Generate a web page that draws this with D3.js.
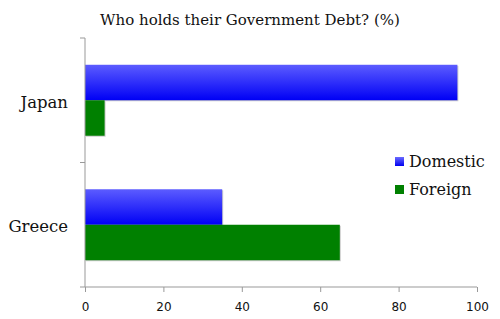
<!DOCTYPE html>
<html>
<head>
<meta charset="utf-8">
<script src="https://cdn.jsdelivr.net/npm/d3@7"></script>
<style>
  body { margin: 0; background: #fff; }
</style>
</head>
<body>
<div id="chart"></div>
<script>
const countries = ["Japan", "Greece"];
const seriesNames = ["Domestic", "Foreign"];
const domestic = [95, 35];
const foreign = [5, 65];
const xTicks = [0, 20, 40, 60, 80, 100];

const W = 500, H = 319;
const M = { top: 38, right: 23, bottom: 32, left: 85 };
const iW = W - M.left - M.right;
const iH = H - M.top - M.bottom;
const colors = ["url(#blueGrad)", "#008000"];

const svg = d3.select("#chart").append("svg")
  .attr("width", W).attr("height", H);

const defs = svg.append("defs");
const grad = defs.append("linearGradient").attr("id", "blueGrad")
  .attr("x1", 0).attr("y1", 0).attr("x2", 0).attr("y2", 1);
grad.append("stop").attr("offset", "0%").attr("stop-color", "#5c5cff");
grad.append("stop").attr("offset", "100%").attr("stop-color", "#0000f5");
const legGrad = defs.append("linearGradient").attr("id", "legGrad")
  .attr("x1", 0).attr("y1", 0).attr("x2", 0).attr("y2", 1);
legGrad.append("stop").attr("offset", "0%").attr("stop-color", "#6a6aff");
legGrad.append("stop").attr("offset", "100%").attr("stop-color", "#0000f0");

// Title
svg.append("text")
  .attr("x", 250).attr("y", 25)
  .attr("text-anchor", "middle")
  .style("font-family", "DejaVu Serif, serif")
  .style("font-size", "15px")
  .style("fill", "#111")
  .text("Who holds their Government Debt? (%)");

const g = svg.append("g").attr("transform", `translate(${M.left},${M.top})`);

const x = d3.scaleLinear().domain([0, 100]).range([0, iW]);
const y = d3.scaleBand().domain(countries).range([0, iH])
  .paddingInner(0.43).paddingOuter(0.215);
const ySub = d3.scaleBand().domain(seriesNames).range([0, y.bandwidth()]);

const rows = countries.map((c, i) => ({ c, vals: [domestic[i], foreign[i]] }));

// Bars
rows.forEach(r => {
  r.vals.forEach((v, j) => {
    const yy = y(r.c) + ySub(seriesNames[j]);
    g.append("rect")
      .attr("x", 1).attr("y", yy + 1)
      .attr("width", x(v)).attr("height", ySub.bandwidth())
      .attr("fill", "#ccc");
    g.append("rect")
      .attr("x", 0).attr("y", yy)
      .attr("width", x(v)).attr("height", ySub.bandwidth())
      .attr("fill", colors[j]);
  });
});

// X axis
g.append("g").attr("transform", `translate(0,${iH})`)
  .call(d3.axisBottom(x).tickValues(xTicks).tickSize(5).tickPadding(10))
  .call(ax => ax.select(".domain").attr("stroke", "#999").attr("d", `M0,0H${iW}`))
  .call(ax => ax.selectAll(".tick line").attr("stroke", "#999"))
  .call(ax => ax.selectAll("text")
    .style("fill", "#111")
    .style("font-family", "DejaVu Sans, sans-serif")
    .style("font-size", "12px"));

// Y axis
g.append("g")
  .call(d3.axisLeft(y).tickSize(0).tickPadding(17))
  .call(ax => ax.select(".domain").attr("stroke", "#999").attr("d", `M0,0V${iH}`))
  .call(ax => ax.selectAll("text")
    .attr("dy", "0.45em")
    .style("fill", "#111")
    .style("font-family", "DejaVu Serif, serif")
    .style("font-size", "16.5px"));

// category boundary ticks
const bounds = [0, y.step(), iH];
g.append("g").selectAll("line").data(bounds).enter().append("line")
  .attr("x1", -5).attr("x2", 0)
  .attr("y1", d => d).attr("y2", d => d)
  .attr("stroke", "#999");

// Legend
const leg = svg.append("g").attr("transform", "translate(395,157)");
seriesNames.forEach((s, i) => {
  const row = leg.append("g").attr("transform", `translate(0,${i * 28})`);
  row.append("rect").attr("width", 9).attr("height", 9)
    .attr("fill", i === 0 ? "url(#legGrad)" : colors[1]);
  row.append("text").attr("x", 14).attr("y", 10)
    .style("font-family", "DejaVu Serif, serif")
    .style("font-size", "16px")
    .style("fill", "#111")
    .text(s);
});
</script>
</body>
</html>
